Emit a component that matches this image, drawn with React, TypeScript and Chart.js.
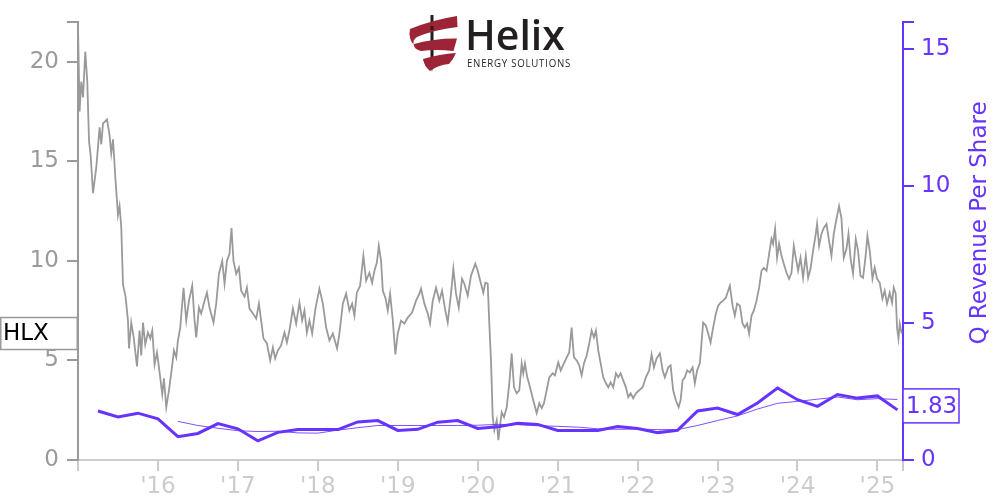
import React, { useEffect, useRef } from "react";
import { Chart, registerables } from "chart.js";

Chart.register(...registerables);

// ---------- DATA ----------
const ticker = "HLX";
const rightAxisTitle = "Q Revenue Per Share";

const xMin = 2015;
const xMax = 2025.32;
const xTickYears = [2016, 2017, 2018, 2019, 2020, 2021, 2022, 2023, 2024, 2025];
const xTickLabels = ["'16", "'17", "'18", "'19", "'20", "'21", "'22", "'23", "'24", "'25"];
const leftTicks = [0, 5, 10, 15, 20];
const leftMax = 22;
const rightTicks = [0, 5, 10, 15];
const rightMax = 16;

// share price (decimal year, price)
const priceYears = [
  2015.000, 2015.020, 2015.041, 2015.063, 2015.091, 2015.116, 2015.138, 2015.158, 2015.188, 2015.229,
  2015.270, 2015.291, 2015.313, 2015.363, 2015.395, 2015.416, 2015.438, 2015.470, 2015.500, 2015.520,
  2015.541, 2015.563, 2015.595, 2015.625, 2015.638, 2015.666, 2015.695, 2015.738, 2015.770, 2015.791,
  2015.813, 2015.841, 2015.875, 2015.904, 2015.929, 2015.958, 2015.988, 2016.013, 2016.054, 2016.075,
  2016.104, 2016.138, 2016.175, 2016.200, 2016.229, 2016.250, 2016.279, 2016.320, 2016.354, 2016.388,
  2016.429, 2016.458, 2016.479, 2016.513, 2016.541, 2016.583, 2016.613, 2016.645, 2016.695, 2016.729,
  2016.763, 2016.804, 2016.833, 2016.863, 2016.895, 2016.920, 2016.945, 2016.979, 2017.013, 2017.041,
  2017.083, 2017.113, 2017.145, 2017.188, 2017.229, 2017.263, 2017.291, 2017.320, 2017.363, 2017.404,
  2017.438, 2017.466, 2017.500, 2017.541, 2017.583, 2017.613, 2017.645, 2017.688, 2017.729, 2017.770,
  2017.804, 2017.833, 2017.863, 2017.895, 2017.929, 2017.970, 2018.020, 2018.063, 2018.104, 2018.145,
  2018.188, 2018.241, 2018.270, 2018.313, 2018.354, 2018.395, 2018.429, 2018.458, 2018.488, 2018.529,
  2018.570, 2018.604, 2018.645, 2018.679, 2018.708, 2018.738, 2018.763, 2018.791, 2018.813, 2018.845,
  2018.875, 2018.904, 2018.938, 2018.970, 2019.000, 2019.041, 2019.083, 2019.125, 2019.179, 2019.229,
  2019.270, 2019.291, 2019.333, 2019.375, 2019.404, 2019.438, 2019.479, 2019.520, 2019.554, 2019.595,
  2019.625, 2019.666, 2019.695, 2019.729, 2019.763, 2019.804, 2019.833, 2019.875, 2019.916, 2019.970,
  2020.000, 2020.041, 2020.070, 2020.095, 2020.125, 2020.145, 2020.166, 2020.188, 2020.208, 2020.238,
  2020.258, 2020.300, 2020.329, 2020.363, 2020.395, 2020.425, 2020.454, 2020.488, 2020.520, 2020.550,
  2020.570, 2020.591, 2020.620, 2020.654, 2020.695, 2020.738, 2020.770, 2020.800, 2020.829, 2020.863,
  2020.895, 2020.938, 2020.966, 2021.008, 2021.038, 2021.079, 2021.113, 2021.145, 2021.175, 2021.204,
  2021.238, 2021.270, 2021.300, 2021.329, 2021.363, 2021.395, 2021.425, 2021.454, 2021.479, 2021.508,
  2021.538, 2021.570, 2021.604, 2021.633, 2021.663, 2021.695, 2021.729, 2021.758, 2021.788, 2021.820,
  2021.854, 2021.883, 2021.913, 2021.945, 2021.979, 2022.020, 2022.063, 2022.104, 2022.145, 2022.175,
  2022.204, 2022.238, 2022.279, 2022.313, 2022.341, 2022.383, 2022.413, 2022.445, 2022.479, 2022.513,
  2022.538, 2022.563, 2022.591, 2022.620, 2022.654, 2022.688, 2022.716, 2022.745, 2022.779, 2022.820,
  2022.854, 2022.883, 2022.913, 2022.945, 2022.979, 2023.008, 2023.038, 2023.070, 2023.104, 2023.133,
  2023.154, 2023.188, 2023.216, 2023.245, 2023.279, 2023.313, 2023.341, 2023.370, 2023.395, 2023.425,
  2023.454, 2023.488, 2023.520, 2023.550, 2023.579, 2023.613, 2023.645, 2023.675, 2023.695, 2023.720,
  2023.745, 2023.770, 2023.800, 2023.829, 2023.863, 2023.895, 2023.925, 2023.954, 2023.979, 2024.008,
  2024.038, 2024.070, 2024.104, 2024.133, 2024.163, 2024.195, 2024.229, 2024.245, 2024.270, 2024.300,
  2024.329, 2024.363, 2024.395, 2024.425, 2024.454, 2024.488, 2024.520, 2024.550, 2024.579, 2024.613,
  2024.638, 2024.663, 2024.695, 2024.729, 2024.758, 2024.788, 2024.820, 2024.850, 2024.875, 2024.904,
  2024.938, 2024.966, 2024.995, 2025.029, 2025.063, 2025.091, 2025.120, 2025.154, 2025.183, 2025.204,
  2025.229, 2025.245, 2025.263, 2025.279, 2025.304,
];
const priceValues = [
  21.8, 17.5, 19.0, 18.2, 20.5, 19.0, 16.0, 15.3, 13.4, 14.7,
  16.7, 15.85, 16.9, 17.1, 16.3, 15.4, 16.1, 14.0, 12.3, 12.75,
  11.7, 8.8, 8.2, 7.0, 5.6, 6.9, 6.2, 4.7, 6.5, 5.25,
  6.9, 5.8, 6.4, 6.1, 6.5, 4.8, 5.4, 4.65, 3.3, 4.1,
  2.65, 3.5, 4.65, 5.5, 5.15, 6.0, 6.65, 8.65, 7.0, 8.0,
  8.75, 7.0, 6.15, 7.65, 7.35, 8.0, 8.4, 7.65, 6.9, 7.85,
  9.35, 10.0, 8.85, 10.0, 10.35, 11.65, 10.0, 9.35, 9.65, 8.5,
  8.2, 8.65, 7.6, 7.35, 7.1, 7.85, 7.0, 6.1, 5.85, 5.0,
  5.65, 5.1, 5.5, 5.75, 6.4, 5.9, 6.5, 7.6, 6.85, 7.9,
  7.0, 7.5, 6.4, 7.0, 6.35, 7.6, 8.6, 7.85, 6.65, 6.0,
  6.35, 5.6, 6.35, 7.85, 8.35, 7.5, 7.85, 7.25, 8.4, 8.75,
  10.25, 9.0, 9.4, 8.9, 9.5, 9.9, 10.75, 10.0, 8.5, 8.15,
  7.5, 8.35, 7.0, 5.3, 6.35, 7.0, 6.85, 7.15, 7.4, 8.0,
  8.35, 8.6, 7.85, 7.35, 6.85, 8.0, 8.65, 8.0, 8.5, 7.5,
  6.9, 8.35, 9.6, 8.35, 7.65, 9.1, 8.85, 8.25, 9.25, 9.85,
  9.5, 8.85, 8.4, 8.9, 8.85, 6.85, 5.0, 2.15, 1.5, 2.0,
  1.0, 2.4, 2.15, 2.65, 3.85, 5.35, 3.65, 3.35, 3.5, 4.85,
  4.35, 4.85, 4.15, 3.65, 3.0, 2.35, 2.85, 2.6, 2.85, 3.5,
  4.15, 4.35, 4.25, 4.9, 4.5, 4.85, 5.15, 5.4, 6.65, 5.15,
  5.0, 4.75, 4.25, 4.85, 5.25, 5.85, 6.5, 6.15, 6.5, 5.5,
  4.85, 4.15, 3.85, 3.65, 3.9, 3.65, 4.35, 4.15, 4.35, 4.0,
  3.65, 3.15, 3.35, 3.1, 3.35, 3.5, 3.65, 4.15, 4.5, 5.3,
  4.65, 5.1, 5.35, 4.5, 4.15, 4.65, 4.75, 3.5, 3.0, 2.65,
  3.0, 4.0, 4.15, 4.5, 4.4, 4.65, 3.85, 4.5, 4.85, 6.9,
  6.75, 6.35, 5.9, 6.65, 7.35, 7.75, 7.9, 8.0, 8.15, 8.5,
  8.75, 7.75, 7.25, 7.85, 7.75, 6.85, 6.65, 6.85, 6.35, 7.25,
  7.5, 8.0, 8.65, 9.5, 9.65, 9.5, 10.35, 11.1, 10.85, 11.6,
  10.15, 10.85, 10.25, 9.85, 9.4, 9.1, 9.4, 10.75, 10.15, 9.5,
  10.15, 9.15, 10.25, 9.15, 9.6, 10.5, 11.35, 11.85, 10.75, 11.35,
  11.65, 11.85, 11.0, 10.25, 11.35, 12.1, 12.75, 12.15, 10.15, 10.6,
  11.35, 10.15, 9.35, 11.1, 10.5, 9.25, 9.15, 10.15, 11.25, 10.5,
  9.1, 9.65, 9.1, 8.9, 8.1, 8.5, 7.85, 8.4, 7.9, 8.65,
  8.35, 6.65, 6.1, 6.85, 6.35,
];

// quarterly revenue per share
const revQuarters = [
  2015.25, 2015.5, 2015.75, 2016.0, 2016.25, 2016.5, 2016.75, 2017.0, 2017.25, 2017.5,
  2017.75, 2018.0, 2018.25, 2018.5, 2018.75, 2019.0, 2019.25, 2019.5, 2019.75, 2020.0,
  2020.25, 2020.5, 2020.75, 2021.0, 2021.25, 2021.5, 2021.75, 2022.0, 2022.25, 2022.5,
  2022.75, 2023.0, 2023.25, 2023.5, 2023.75, 2024.0, 2024.25, 2024.5, 2024.75, 2025.0,
  2025.25,
];
const revValues = [
  1.79, 1.57, 1.71, 1.50, 0.85, 0.97, 1.33, 1.14, 0.70, 1.01,
  1.11, 1.11, 1.11, 1.39, 1.44, 1.08, 1.12, 1.38, 1.44, 1.15,
  1.21, 1.34, 1.30, 1.08, 1.08, 1.08, 1.22, 1.15, 1.00, 1.08,
  1.79, 1.90, 1.66, 2.08, 2.63, 2.20, 1.96, 2.39, 2.26, 2.34,
  1.83,
];
// 4-quarter average (thin line), from 2016.25
const avgQuarters = revQuarters.slice(4);
const avgValues = [
  1.41, 1.26, 1.16, 1.07, 1.04, 1.05, 0.99, 0.98, 1.09, 1.18,
  1.26, 1.26, 1.26, 1.26, 1.26, 1.27, 1.30, 1.29, 1.25, 1.23,
  1.20, 1.14, 1.12, 1.13, 1.11, 1.11, 1.26, 1.44, 1.61, 1.86,
  2.07, 2.14, 2.22, 2.30, 2.20, 2.24, 2.21,
];
const lastRevLabel = "1.83";

// ---------- STYLE ----------
const FONT = "DejaVu Sans";
const GRAY = "#9a9a9a";
const LIGHT = "#cccccc";
const PURPLE = "#6633ff";
const LOGO_RED = "#9d2336";
const LOGO_DARK = "#231f20";

function drawLogo(ctx: CanvasRenderingContext2D) {
  ctx.save();
  // pin
  ctx.fillStyle = LOGO_DARK;
  ctx.beginPath();
  ctx.moveTo(430.5, 15);
  ctx.lineTo(433.5, 15);
  ctx.lineTo(433.5, 62);
  ctx.lineTo(432, 72);
  ctx.lineTo(430.5, 62);
  ctx.closePath();
  ctx.fill();
  // ribbon bands
  ctx.fillStyle = LOGO_RED;
  ctx.beginPath();
  ctx.moveTo(410, 29);
  ctx.quadraticCurveTo(432, 20, 457, 16);
  ctx.lineTo(457.5, 27);
  ctx.quadraticCurveTo(433, 30, 417, 37);
  ctx.quadraticCurveTo(412, 40, 414, 45);
  ctx.quadraticCurveTo(408, 39, 410, 29);
  ctx.closePath();
  ctx.fill();

  ctx.beginPath();
  ctx.moveTo(414, 44);
  ctx.quadraticCurveTo(436, 38, 457, 38.5);
  ctx.lineTo(453.5, 51);
  ctx.quadraticCurveTo(436, 49, 421, 51);
  ctx.quadraticCurveTo(413, 49, 414, 44);
  ctx.closePath();
  ctx.fill();

  ctx.beginPath();
  ctx.moveTo(423, 59);
  ctx.quadraticCurveTo(440, 54, 456, 53);
  ctx.quadraticCurveTo(453, 60, 449, 64);
  ctx.quadraticCurveTo(438, 65, 430, 71);
  ctx.quadraticCurveTo(424, 66, 423, 59);
  ctx.closePath();
  ctx.fill();

  // pin visible through the gaps
  ctx.fillStyle = LOGO_DARK;
  ctx.fillRect(430.5, 26, 3, 4);

  // word mark
  ctx.fillStyle = LOGO_DARK;
  ctx.textAlign = "left";
  ctx.textBaseline = "alphabetic";
  ctx.font = "600 41px 'Open Sans'";
  ctx.fillText("Helix", 465, 50);
  ctx.font = "500 10.5px 'Open Sans'";
  try {
    (ctx as any).letterSpacing = "0.8px";
  } catch (e) {}
  ctx.fillText("ENERGY SOLUTIONS", 467, 67, 104);
  ctx.restore();
}

const overlayPlugin = {
  id: "overlay",
  afterDraw(chart: any) {
    const ctx = chart.ctx as CanvasRenderingContext2D;
    const yS = chart.scales.y;
    const y1S = chart.scales.y1;
    const area = chart.chartArea;

    drawLogo(ctx);

    // ticker box on left axis
    const lastPrice = priceValues[priceValues.length - 1];
    const py = yS.getPixelForValue(lastPrice);
    ctx.save();
    ctx.fillStyle = "#ffffff";
    ctx.fillRect(0, py - 16, area.left - 1, 32);
    ctx.strokeStyle = GRAY;
    ctx.lineWidth = 1.5;
    ctx.strokeRect(0.75, py - 16, area.left - 1.5, 32);
    ctx.fillStyle = "#000000";
    ctx.font = `23px '${FONT}'`;
    ctx.textAlign = "left";
    ctx.textBaseline = "middle";
    ctx.fillText(ticker, 3, py + 1);
    ctx.restore();

    // last revenue box on right axis
    const lastRev = revValues[revValues.length - 1];
    const ry = y1S.getPixelForValue(lastRev) - 4;
    ctx.save();
    ctx.fillStyle = "#ffffff";
    ctx.fillRect(area.right, ry - 17, 56, 34);
    ctx.strokeStyle = PURPLE;
    ctx.lineWidth = 1.5;
    ctx.strokeRect(area.right, ry - 17, 56, 34);
    ctx.fillStyle = PURPLE;
    ctx.font = `23px '${FONT}'`;
    ctx.textAlign = "left";
    ctx.textBaseline = "middle";
    ctx.fillText(lastRevLabel, area.right + 3, ry + 1);
    ctx.restore();

    // right axis title, reading bottom to top
    ctx.save();
    ctx.translate(980, 223);
    ctx.rotate(-Math.PI / 2);
    ctx.fillStyle = PURPLE;
    ctx.font = `23px '${FONT}'`;
    ctx.textAlign = "center";
    ctx.textBaseline = "middle";
    ctx.fillText(rightAxisTitle, 0, 0);
    ctx.restore();
  },
};

export default function App() {
  const canvasRef = useRef<HTMLCanvasElement | null>(null);

  useEffect(() => {
    if (!canvasRef.current) return;
    const priceData = priceYears.map((x, i) => ({ x, y: priceValues[i] }));
    const revData = revQuarters.map((x, i) => ({ x, y: revValues[i] }));
    const avgData = avgQuarters.map((x, i) => ({ x, y: avgValues[i] }));

    const chart = new Chart(canvasRef.current, {
      type: "line",
      data: {
        datasets: [
          {
            label: "Q Revenue Per Share",
            data: revData,
            yAxisID: "y1",
            borderColor: PURPLE,
            borderWidth: 3,
            pointRadius: 0,
            tension: 0,
            order: 0,
          },
          {
            label: "4Q average",
            data: avgData,
            yAxisID: "y1",
            borderColor: "rgba(102,51,255,0.85)",
            borderWidth: 1,
            pointRadius: 0,
            tension: 0,
            order: 1,
          },
          {
            label: ticker,
            data: priceData,
            yAxisID: "y",
            borderColor: GRAY,
            borderWidth: 1.8,
            pointRadius: 0,
            tension: 0,
            order: 2,
          },
        ],
      },
      options: {
        animation: false,
        responsive: true,
        maintainAspectRatio: false,
        parsing: false as any,
        normalized: true,
        layout: { padding: { top: 18.5, left: 0, right: 0, bottom: 0 } },
        plugins: {
          legend: { display: false },
          tooltip: { enabled: false },
          title: { display: false },
        },
        scales: {
          x: {
            type: "linear",
            min: xMin,
            max: xMax,
            afterBuildTicks: (s: any) => {
              s.ticks = [xMin, ...xTickYears, xMax].map((v) => ({ value: v }));
            },
            afterFit: (s: any) => {
              s.height = 40;
            },
            ticks: {
              autoSkip: false,
              maxRotation: 0,
              minRotation: 0,
              padding: 2,
              color: LIGHT,
              font: { family: FONT, size: 23 },
              callback: (v: any) => {
                const i = xTickYears.indexOf(Number(v));
                return i >= 0 ? xTickLabels[i] : "";
              },
            },
            grid: { drawOnChartArea: false, color: LIGHT, lineWidth: 2, tickLength: 11 },
            border: { display: true, color: LIGHT, width: 2 },
          },
          y: {
            type: "linear",
            position: "left",
            min: 0,
            max: leftMax,
            afterBuildTicks: (s: any) => {
              s.ticks = [...leftTicks, leftMax].map((v) => ({ value: v }));
            },
            afterFit: (s: any) => {
              s.width = 78;
            },
            ticks: {
              padding: 8,
              color: GRAY,
              font: { family: FONT, size: 23 },
              callback: (v: any) => (leftTicks.includes(Number(v)) ? String(v) : ""),
            },
            grid: { drawOnChartArea: false, color: GRAY, lineWidth: 2, tickLength: 11 },
            border: { display: true, color: GRAY, width: 2 },
          },
          y1: {
            type: "linear",
            position: "right",
            min: 0,
            max: rightMax,
            afterBuildTicks: (s: any) => {
              s.ticks = [...rightTicks, rightMax].map((v) => ({ value: v }));
            },
            afterFit: (s: any) => {
              s.width = 97;
            },
            ticks: {
              padding: 7,
              color: PURPLE,
              font: { family: FONT, size: 23 },
              callback: (v: any) => (rightTicks.includes(Number(v)) ? String(v) : ""),
            },
            grid: { drawOnChartArea: false, color: PURPLE, lineWidth: 2, tickLength: 11 },
            border: { display: true, color: PURPLE, width: 2 },
          },
        },
      },
      plugins: [overlayPlugin],
    });
    return () => chart.destroy();
  }, []);

  return (
    <div
      style={{
        position: "fixed",
        left: 0,
        top: 0,
        width: 1000,
        height: 500,
        background: "#ffffff",
      }}
    >
      <canvas ref={canvasRef} />
    </div>
  );
}
